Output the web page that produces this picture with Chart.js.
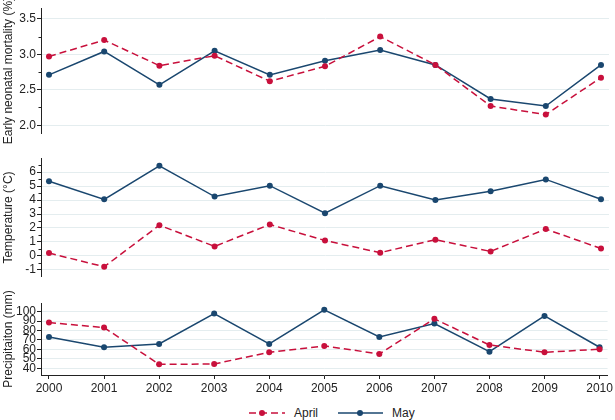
<!DOCTYPE html>
<html>
<head>
<meta charset="utf-8">
<script src="https://cdn.jsdelivr.net/npm/chart.js@4"></script>
<style>
  body { margin: 0; background: #fff; }
  #wrap { position: relative; width: 615px; height: 420px; font-family: "Liberation Sans", Arial, sans-serif; color: #222; }
  .panel { position: absolute; left: 0; }
  .lg { position: absolute; top: 405px; height: 16px; display: flex; align-items: center; font-size: 12px; }
  .lg svg { margin-right: 8px; }
</style>
</head>
<body>
<div id="wrap">
  <canvas id="cMort" class="panel" width="615" height="148" style="top:0"></canvas>
  <canvas id="cTemp" class="panel" width="615" height="135" style="top:150px"></canvas>
  <canvas id="cPrec" class="panel" width="615" height="110" style="top:290px"></canvas>
  <div class="lg" style="left:248px">
    <svg width="38" height="10"><line x1="1" y1="5" x2="37" y2="5" stroke="#c8103c" stroke-width="1.5" stroke-dasharray="7,4"/><circle cx="14" cy="5" r="3" fill="#c8103c"/></svg>April
  </div>
  <div class="lg" style="left:338px">
    <svg width="46" height="10"><line x1="0" y1="5" x2="45" y2="5" stroke="#1a476f" stroke-width="1.5"/><circle cx="22" cy="5" r="3" fill="#1a476f"/></svg>May
  </div>
</div>
<script>
const years = [2000, 2001, 2002, 2003, 2004, 2005, 2006, 2007, 2008, 2009, 2010];

const mortApril = [2.97, 3.20, 2.84, 2.98, 2.62, 2.83, 3.25, 2.85, 2.27, 2.15, 2.67];
const mortMay   = [2.71, 3.04, 2.57, 3.05, 2.71, 2.91, 3.06, 2.85, 2.37, 2.27, 2.85];

const tempApril = [0.20, -0.78, 2.20, 0.68, 2.25, 1.10, 0.23, 1.16, 0.32, 1.92, 0.53];
const tempMay   = [5.35, 4.05, 6.45, 4.25, 5.03, 3.06, 5.03, 4.00, 4.63, 5.48, 4.06];

const precApril = [88.4, 83.1, 44.3, 44.6, 57.0, 63.7, 55.2, 92.3, 64.7, 57.0, 60.2];
const precMay   = [73.2, 62.3, 65.8, 97.9, 65.8, 101.8, 73.2, 87.3, 57.6, 95.4, 62.3];

const mortTicks  = [2.0, 2.5, 3.0, 3.5];
const mortMinor  = [2.25, 2.75, 3.25];
const tempTicks  = [-1, 0, 1, 2, 3, 4, 5, 6];
const tempMinor  = [-0.5, 0.5, 1.5, 2.5, 3.5, 4.5, 5.5, 6.5];
const precTicks  = [40, 50, 60, 70, 80, 90, 100];

const RED   = "#c8103c";
const NAVY  = "#1a476f";
const AXIS  = "#222";
const GRID  = "#e4edef";
const FONT  = { family: "'Liberation Sans', Arial, sans-serif", size: 12 };

Chart.defaults.font.family = FONT.family;
Chart.defaults.color = AXIS;

/* small ticks between the labelled ones */
const minorTicks = {
  id: "minorTicks",
  afterDraw(chart, args, opts) {
    const sc = chart.scales.y;
    const ctx = chart.ctx;
    ctx.save();
    ctx.strokeStyle = AXIS;
    ctx.lineWidth = 1;
    (opts.values || []).forEach(v => {
      const y = Math.round(sc.getPixelForValue(v)) + 0.5;
      ctx.beginPath();
      ctx.moveTo(sc.right - 2.5, y);
      ctx.lineTo(sc.right, y);
      ctx.stroke();
    });
    ctx.restore();
  }
};

function pts(vals) {
  return vals.map((v, i) => ({ x: years[i], y: v }));
}

function makePanel(id, april, may, cfg) {
  const ctx = document.getElementById(id).getContext("2d");
  return new Chart(ctx, {
    type: "line",
    data: {
      datasets: [
        {
          label: "April",
          data: pts(april),
          borderColor: RED,
          backgroundColor: RED,
          borderWidth: 1.5,
          borderDash: [7, 4],
          pointRadius: 3,
          pointBorderWidth: 0,
          pointBackgroundColor: RED,
          tension: 0,
        },
        {
          label: "May",
          data: pts(may),
          borderColor: NAVY,
          backgroundColor: NAVY,
          borderWidth: 1.5,
          pointRadius: 3,
          pointBorderWidth: 0,
          pointBackgroundColor: NAVY,
          tension: 0,
        }
      ]
    },
    options: {
      responsive: false,
      animation: false,
      layout: { padding: cfg.padding },
      plugins: {
        legend: { display: false },
        tooltip: { enabled: false },
        minorTicks: { values: cfg.minor || [] },
      },
      scales: {
        x: {
          type: "linear",
          min: 1999.855,
          max: 2010.145,
          display: cfg.showX,
          afterBuildTicks: s => { s.ticks = years.map(v => ({ value: v })); },
          afterFit: s => { if (cfg.showX) s.height = 25; },
          grid: { drawOnChartArea: false, tickLength: 4, tickColor: AXIS },
          border: { color: AXIS, width: 1 },
          ticks: { font: FONT, color: AXIS, padding: 2, maxRotation: 0, callback: v => String(v) },
        },
        y: {
          type: "linear",
          min: cfg.min,
          max: cfg.max,
          afterBuildTicks: s => { s.ticks = cfg.ticks.map(v => ({ value: v })); },
          afterFit: s => { s.width = 41; },
          grid: { color: GRID, lineWidth: 1, tickLength: 4, tickColor: AXIS },
          border: { color: AXIS, width: 1 },
          ticks: { font: FONT, color: AXIS, padding: 1, autoSkip: false, callback: cfg.fmt },
          title: { display: true, text: cfg.title, font: FONT, color: AXIS, padding: { top: 1, bottom: 0 } },
        }
      }
    },
    plugins: [minorTicks]
  });
}

makePanel("cMort", mortApril, mortMay, {
  title: "Early neonatal mortality (%)",
  min: 1.89, max: 3.65, ticks: mortTicks, minor: mortMinor,
  fmt: v => v.toFixed(1),
  padding: { top: 5, bottom: 15, left: 0, right: 6 },
  showX: false,
});

makePanel("cTemp", tempApril, tempMay, {
  title: "Temperature (°C)",
  min: -1.5, max: 7.0, ticks: tempTicks, minor: tempMinor,
  fmt: v => String(v),
  padding: { top: 6, bottom: 5, left: 0, right: 6 },
  showX: false,
});

makePanel("cPrec", precApril, precMay, {
  title: "Precipitaiton (mm)",
  min: 33, max: 109, ticks: precTicks, minor: [],
  fmt: v => String(v),
  padding: { top: 13, bottom: 0, left: 0, right: 6 },
  showX: true,
});
</script>
</body>
</html>
